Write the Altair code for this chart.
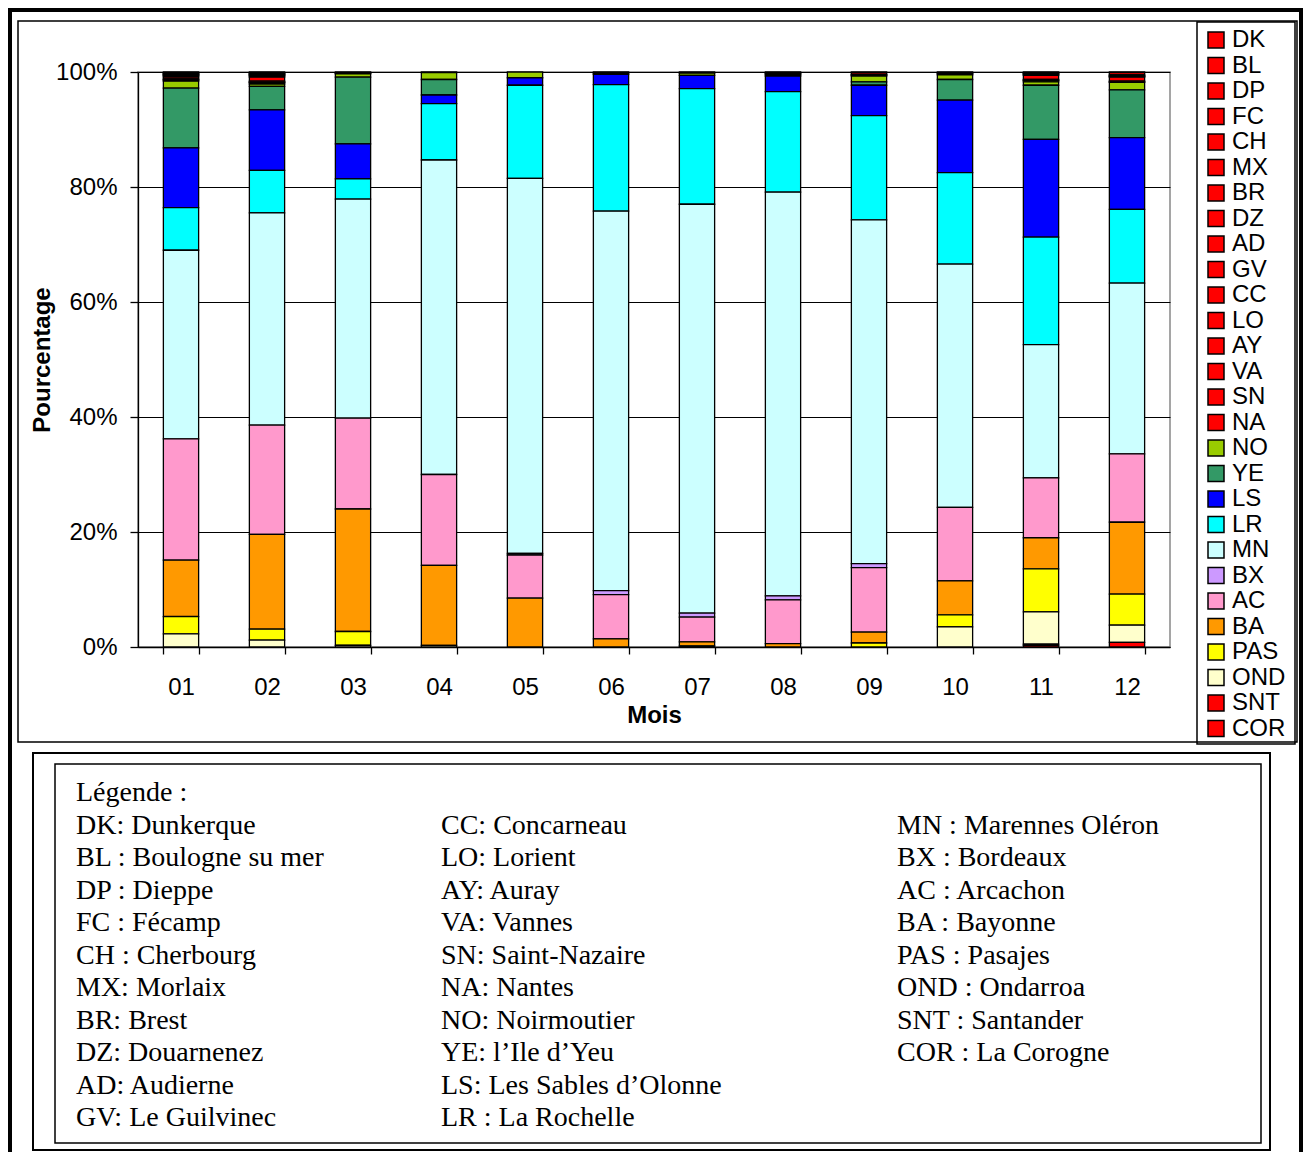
import altair as alt
import pandas as pd

MONTHS = ["01", "02", "03", "04", "05", "06", "07", "08", "09", "10", "11", "12"]
CATEGORIES = ["DK", "BL", "DP", "FC", "CH", "MX", "BR", "DZ", "AD", "GV", "CC", "LO", "AY", "VA",
              "SN", "NA", "NO", "YE", "LS", "LR", "MN", "BX", "AC", "BA", "PAS", "OND", "SNT", "COR"]
COLORS = ["#FF0000"] * 16 + ["#99CC00", "#339966", "#0000FF", "#00FFFF", "#CCFFFF", "#CC99FF",
                             "#FF99CC", "#FF9900", "#FFFF00", "#FFFFCC", "#FF0000", "#FF0000"]

# share (%) per month, 01..12
DK = [0.1, 0, 0.1, 0.1, 0, 0.2, 0.2, 0.2, 0.1, 0.2, 0.1, 0]
BL = [0.1, 0.1, 0, 0, 0, 0, 0, 0, 0.3, 0, 0, 0.1]
DP = [0, 0.1, 0, 0, 0, 0, 0, 0, 0, 0, 0.1, 0.4]
FC = [0.1, 0, 0, 0, 0, 0, 0, 0, 0, 0, 0, 0]
CH = [0.1, 0.1, 0, 0, 0, 0, 0, 0, 0, 0, 0, 0]
MX = [0, 0.1, 0, 0, 0, 0, 0, 0, 0, 0, 0, 0.1]
BR = [0.1, 0.1, 0, 0, 0, 0, 0, 0, 0, 0, 0, 0.1]
DZ = [0.1, 0.1, 0.1, 0, 0, 0, 0, 0, 0, 0, 0.1, 0]
AD = [0.1, 0.1, 0, 0, 0, 0, 0, 0, 0, 0, 0.1, 0.1]
GV = [0.2, 0.2, 0.1, 0, 0, 0, 0, 0.1, 0.1, 0.1, 0.2, 0.1]
CC = [0.3, 0.7, 0, 0, 0, 0.2, 0, 0.2, 0.1, 0.2, 0.7, 0.7]
LO = [0.1, 0.1, 0, 0, 0, 0, 0, 0, 0, 0, 0.1, 0]
AY = [0, 0.1, 0, 0, 0, 0, 0, 0, 0, 0, 0, 0]
VA = [0, 0, 0, 0, 0, 0, 0, 0, 0, 0, 0, 0]
SN = [0.1, 0.1, 0, 0, 0, 0, 0, 0, 0, 0, 0.1, 0.1]
NA = [0.2, 0.2, 0, 0, 0, 0, 0, 0.2, 0.1, 0, 0.2, 0.1]
NO = [1.2, 0.4, 0.6, 1.2, 1.0, 0, 0.4, 0, 1.0, 0.8, 0.6, 1.3]
YE = [10.4, 4.1, 11.6, 2.7, 0, 0, 0, 0, 0.6, 3.6, 9.4, 8.3]
LS = [10.4, 10.5, 6.1, 1.5, 1.3, 1.8, 2.3, 2.7, 5.3, 12.6, 17.0, 12.5]
LR = [7.4, 7.4, 3.5, 9.8, 16.2, 22.0, 20.1, 17.5, 18.1, 15.9, 18.7, 12.8]
MN = [32.8, 36.9, 38.1, 54.7, 65.2, 66.0, 71.1, 70.2, 59.8, 42.3, 23.2, 29.7]
BX = [0, 0, 0, 0, 0.3, 0.7, 0.7, 0.7, 0.7, 0, 0, 0]
AC = [21.1, 19.0, 15.8, 15.8, 7.5, 7.7, 4.3, 7.6, 11.2, 12.8, 10.4, 11.9]
BA = [9.8, 16.5, 21.3, 13.9, 8.5, 1.4, 0.7, 0.6, 1.9, 5.9, 5.4, 12.5]
PAS = [3.0, 1.9, 2.4, 0, 0, 0, 0.2, 0, 0.7, 2.1, 7.5, 5.4]
OND = [2.3, 1.2, 0.3, 0.3, 0, 0, 0, 0, 0, 3.5, 5.6, 3.0]
SNT = [0, 0, 0, 0, 0, 0, 0, 0, 0, 0, 0.2, 0]
COR = [0, 0, 0, 0, 0, 0, 0, 0, 0, 0, 0.3, 0.8]

SERIES = [DK, BL, DP, FC, CH, MX, BR, DZ, AD, GV, CC, LO, AY, VA, SN, NA,
          NO, YE, LS, LR, MN, BX, AC, BA, PAS, OND, SNT, COR]

LEGEND_COL1 = ["Légende :", "DK: Dunkerque", "BL : Boulogne su mer", "DP : Dieppe", "FC : Fécamp",
               "CH : Cherbourg", "MX: Morlaix", "BR: Brest", "DZ: Douarnenez", "AD: Audierne",
               "GV: Le Guilvinec"]
LEGEND_COL2 = ["CC: Concarneau", "LO: Lorient", "AY: Auray", "VA: Vannes", "SN: Saint-Nazaire",
               "NA: Nantes", "NO: Noirmoutier", "YE: l’Ile d’Yeu", "LS: Les Sables d’Olonne",
               "LR : La Rochelle"]
LEGEND_COL3 = ["MN : Marennes Oléron", "BX : Bordeaux", "AC : Arcachon", "BA : Bayonne",
               "PAS : Pasajes", "OND : Ondarroa", "SNT : Santander", "COR : La Corogne"]

rows = []
for i, (cat, vals) in enumerate(zip(CATEGORIES, SERIES)):
    for m, v in zip(MONTHS, vals):
        rows.append({"cat": cat, "idx": i, "month": m, "value": v})
df = pd.DataFrame(rows)

SANS = "Liberation Sans"
SERIF = "Liberation Serif"

bars = alt.Chart(df).transform_filter("datum.value > 0").mark_bar(
    stroke="black", strokeWidth=1.3
).encode(
    x=alt.X("month:N", sort=MONTHS, title="Mois",
            scale=alt.Scale(paddingInner=0.59, paddingOuter=0.295),
            axis=alt.Axis(labelAngle=0, tickBand="extent", tickSize=7, labelPadding=21,
                          titlePadding=4, grid=False)),
    y=alt.Y("value:Q", stack="normalize", title="Pourcentage",
            scale=alt.Scale(domain=[0, 1], nice=False),
            axis=alt.Axis(format="%", values=[0, 0.2, 0.4, 0.6, 0.8, 1.0], tickSize=8,
                          labelPadding=13, titlePadding=1, grid=True)),
    color=alt.Color("cat:N", scale=alt.Scale(domain=CATEGORIES, range=COLORS),
                    legend=alt.Legend(title=None, orient="none", legendX=1058, legendY=-52,
                                      padding=8, direction="vertical", columns=1,
                                      symbolType="square", symbolSize=256,
                                      symbolStrokeColor="black", symbolStrokeWidth=1.5,
                                      labelFont=SANS, labelFontSize=24, labelColor="black",
                                      labelOffset=4, rowPadding=1.5, symbolLimit=40)),
    order=alt.Order("idx:Q", sort="descending"),
)

frame_df = pd.DataFrame({"k": [0]})


def frame(x, y, x2, y2, sw, color="black"):
    return alt.Chart(frame_df).mark_rect(fillOpacity=0, stroke=color, strokeWidth=sw).encode(
        x=alt.value(x), x2=alt.value(x2), y=alt.value(y), y2=alt.value(y2))


frames = [
    frame(-128, -62, 1163, 1110, 4),      # page frame
    frame(-120, -51, 1159, 670, 1.5),     # chart area
    frame(1059, -50, 1157, 672, 1.5),     # legend box
    frame(-105, 681, 1132, 1078, 2),      # text box outer
    frame(-83, 692, 1123, 1071, 1.5),     # text box inner
]

yrow = alt.Scale(domain=[0, 10], range=[729, 1054])


def text_col(labels, start, xpos):
    d = pd.DataFrame({"label": labels, "row": list(range(start, start + len(labels)))})
    return alt.Chart(d).mark_text(align="left", baseline="alphabetic", font=SERIF,
                                  fontSize=28, color="black").encode(
        x=alt.value(xpos), y=alt.Y("row:Q", scale=yrow, axis=None), text="label:N")


texts = [text_col(LEGEND_COL1, 0, -62), text_col(LEGEND_COL2, 1, 303),
         text_col(LEGEND_COL3, 1, 759)]

chart = alt.layer(*frames, bars, *texts).resolve_scale(y="independent").properties(
    width=1032, height=575,
    autosize=alt.AutoSizeParams(type="none"),
    padding={"left": 130, "top": 64, "right": 133, "bottom": 505},
).configure_view(stroke="#888888", strokeWidth=1.5).configure_axis(
    labelFont=SANS, labelFontSize=24, labelColor="black",
    titleFont=SANS, titleFontSize=24, titleFontWeight="bold", titleColor="black",
    domainColor="black", domainWidth=1.3, tickColor="black", tickWidth=1.3,
    gridColor="black", gridWidth=1, gridOpacity=1,
)

chart.save("out.html", embed_options={"renderer": "svg", "actions": False})
